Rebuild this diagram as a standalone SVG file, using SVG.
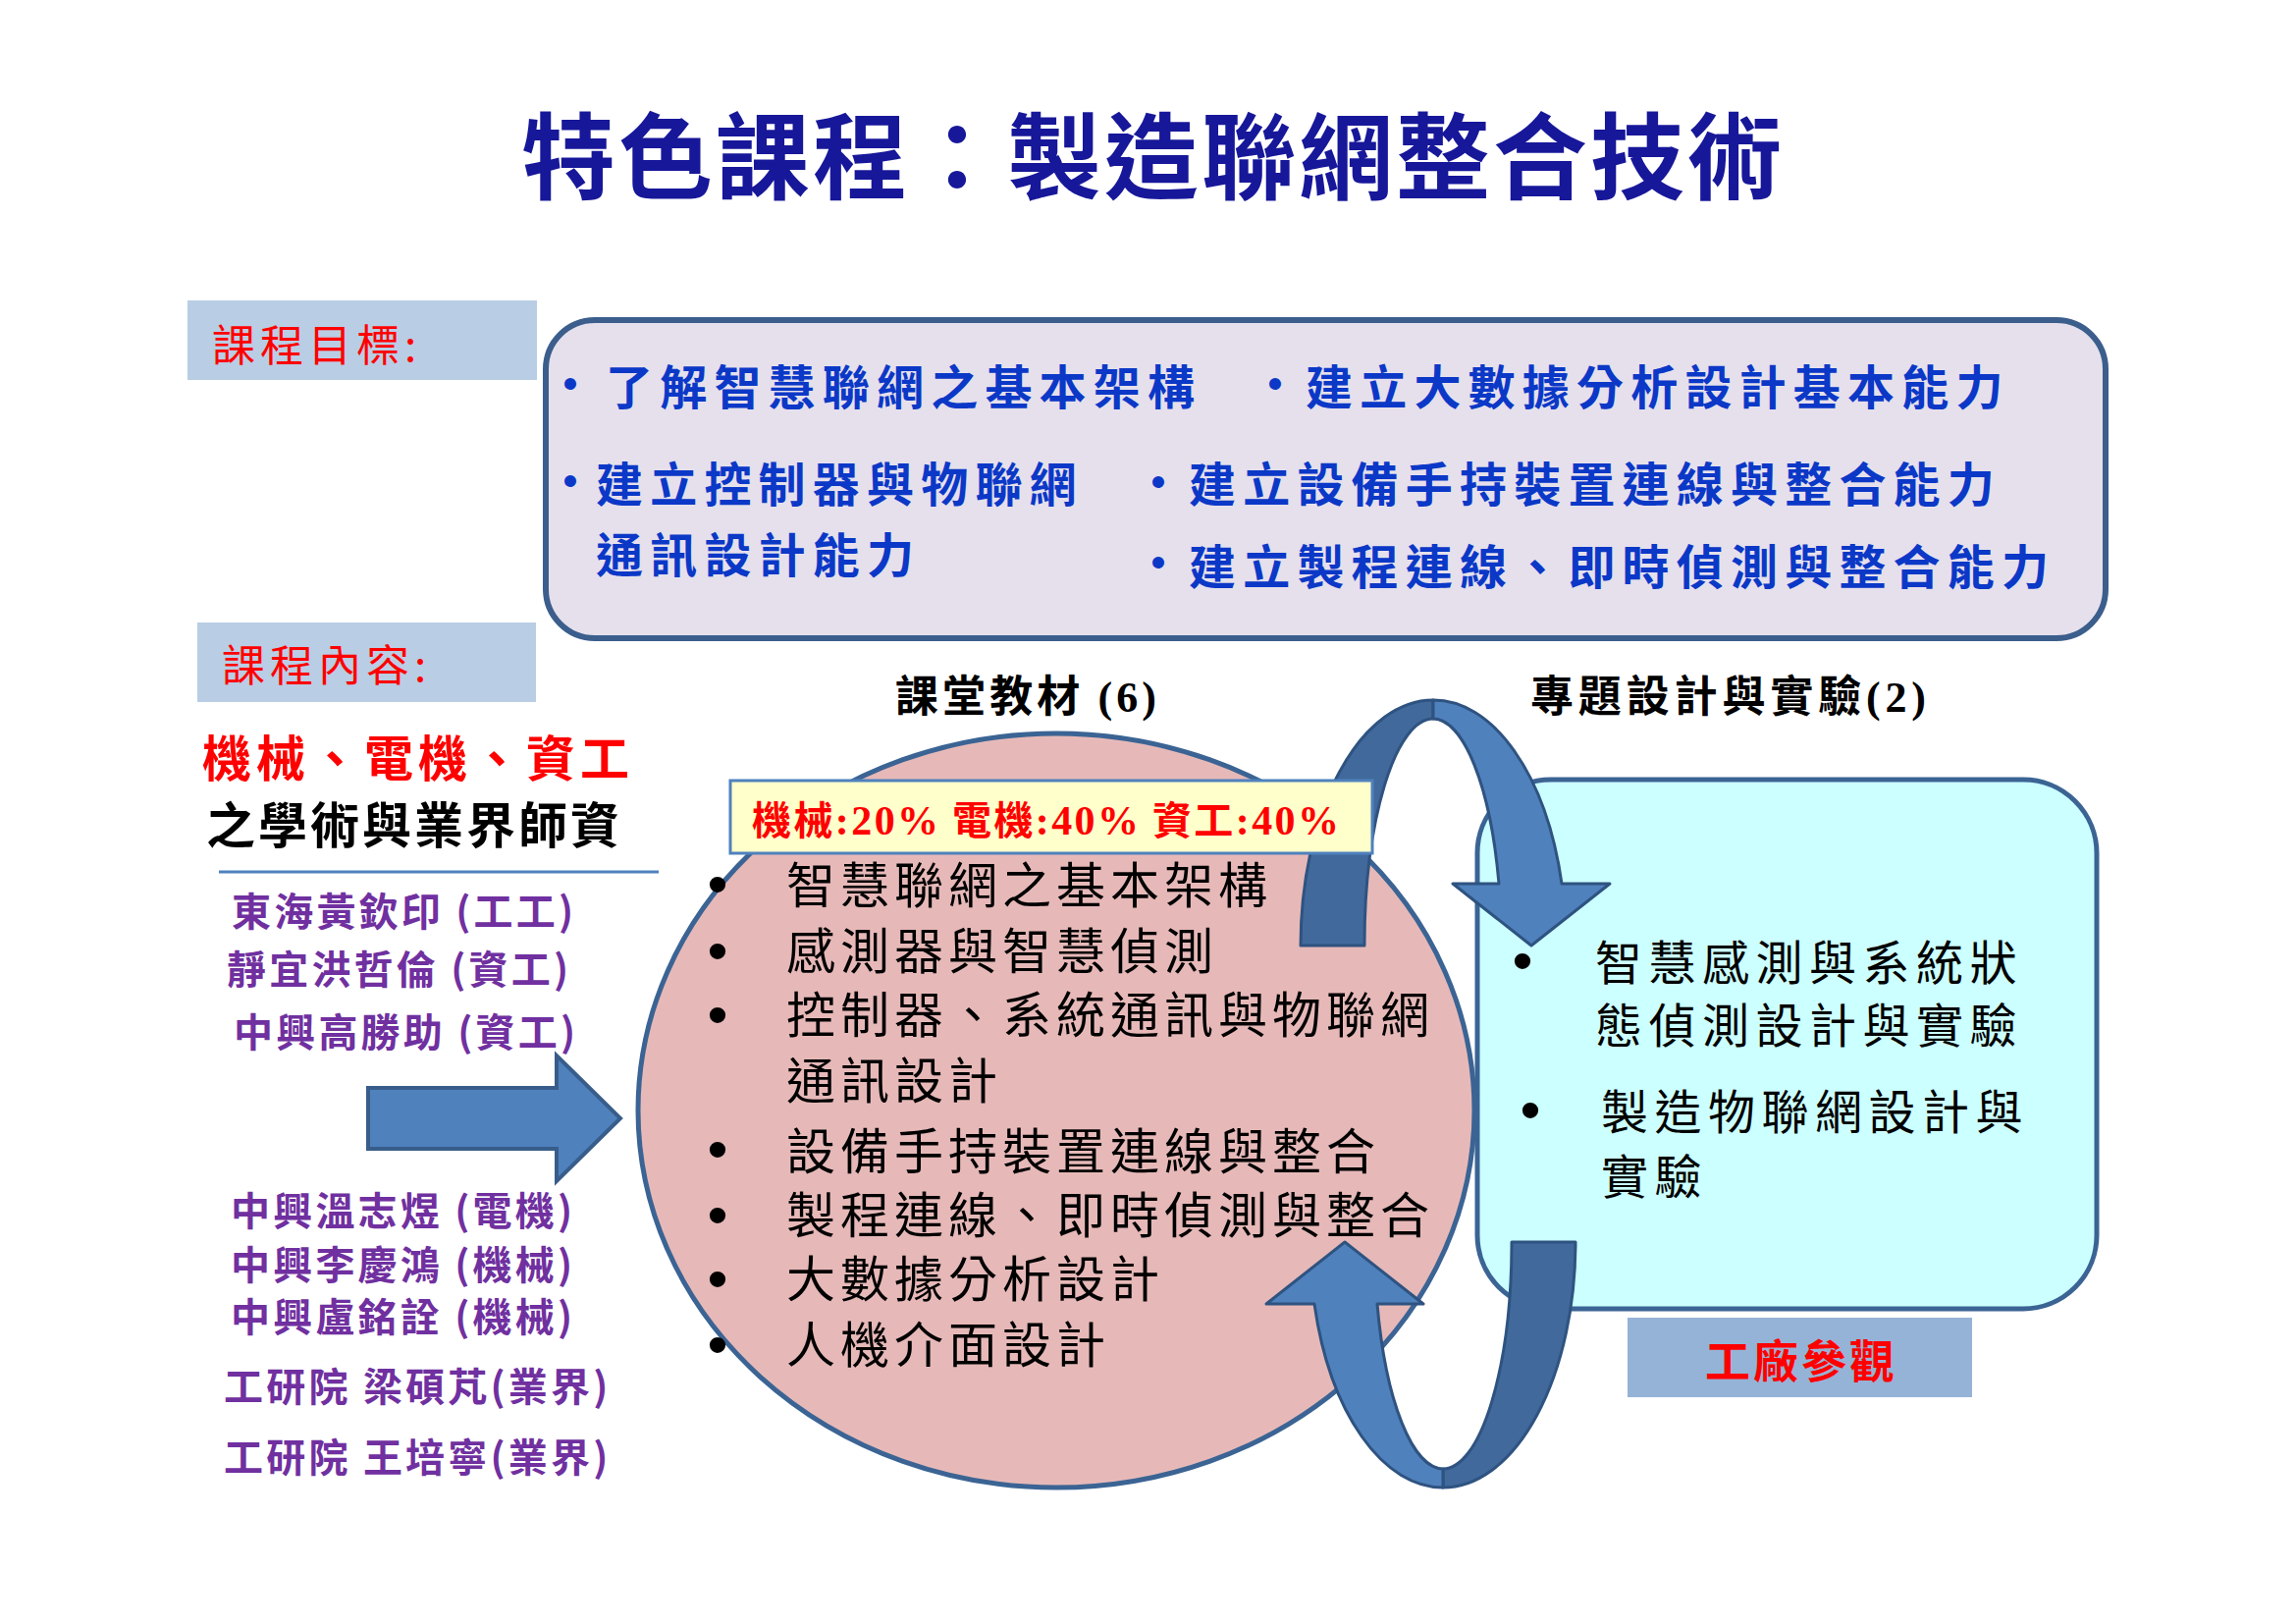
<svg xmlns="http://www.w3.org/2000/svg" xmlns:xlink="http://www.w3.org/1999/xlink" width="2339" height="1654" viewBox="0 0 2339 1654">
<style>
.cjk{font-family:"Noto Sans CJK TC","Noto Sans CJK SC",sans-serif;}
.b{font-weight:bold;}
.obj{font-size:48px;letter-spacing:7.2px;fill:#0B38C7;font-weight:bold;}
.name{font-size:40px;letter-spacing:3.2px;fill:#7030A0;font-weight:bold;}
.pink{font-size:50px;letter-spacing:5px;fill:#000;}
.cyan{font-size:48px;letter-spacing:6.5px;fill:#000;}
.lbl{font-size:44px;letter-spacing:5px;fill:#FF0000;}
.bul{font-family:"Liberation Sans",sans-serif;text-anchor:middle;}
.ser{font-family:"Liberation Serif",serif;}
.light{fill:#4F81BD;stroke:#2F5380;stroke-width:3;stroke-linejoin:round;}
.dark{fill:#41699C;stroke:#2F5380;stroke-width:3;stroke-linejoin:round;}
</style>
<defs>
<g id="uarrow">
<path class="dark" d="M1325,963 A135,250 0 0 1 1460,713 L1460,732 A70,231 0 0 0 1390,963 Z"/>
<path class="light" d="M1460,713 A135,250 0 0 1 1591,900 L1640,900 L1560,963 L1480,900 L1527,900 A70,231 0 0 0 1460,732 Z"/>
</g>
</defs>
<rect width="2339" height="1654" fill="#FFFFFF"/>

<g id="title">
<text class="cjk b" x="531" y="195" font-size="96" letter-spacing="3" fill="#17179A">特色課程：製造聯網整合技術</text>
</g>

<g id="label-goal">
<rect x="191" y="306" width="356" height="81" fill="#B9CDE5"/>
<text class="cjk lbl" x="216" y="368">課程目標:</text>
</g>

<g id="objectives">
<rect x="556" y="326" width="1589" height="324" rx="50" ry="50" fill="#E5E0EC" stroke="#3B5E8C" stroke-width="6"/>
<text class="bul" x="581" y="406" font-size="44" fill="#0B38C7">•</text>
<text class="cjk obj" x="617" y="412">了解智慧聯網之基本架構</text>
<text class="bul" x="1299" y="406" font-size="44" fill="#0B38C7">•</text>
<text class="cjk obj" x="1330" y="412">建立大數據分析設計基本能力</text>
<text class="bul" x="581" y="505" font-size="44" fill="#0B38C7">•</text>
<text class="cjk obj" x="607" y="511">建立控制器與物聯網</text>
<text class="cjk obj" x="607" y="583">通訊設計能力</text>
<text class="bul" x="1180" y="506" font-size="44" fill="#0B38C7">•</text>
<text class="cjk obj" x="1211" y="511">建立設備手持裝置連線與整合能力</text>
<text class="bul" x="1180" y="588" font-size="44" fill="#0B38C7">•</text>
<text class="cjk obj" x="1211" y="595" letter-spacing="7.8">建立製程連線、即時偵測與整合能力</text>
</g>

<g id="label-content">
<rect x="201" y="634" width="345" height="81" fill="#B9CDE5"/>
<text class="cjk lbl" x="226" y="694">課程內容:</text>
</g>

<g id="faculty">
<text class="cjk b" x="206" y="791" font-size="50" letter-spacing="5" fill="#FF0000">機械、電機、資工</text>
<text class="cjk b" x="210" y="859" font-size="50" letter-spacing="3" fill="#000">之學術與業界師資</text>
<line x1="223" y1="888" x2="671" y2="888" stroke="#4F81BD" stroke-width="3"/>
<text class="cjk name" x="236" y="943">東海黃欽印 (工工)</text>
<text class="cjk name" x="231" y="1002">靜宜洪哲倫 (資工)</text>
<text class="cjk name" x="238" y="1066">中興高勝助 (資工)</text>
<text class="cjk name" x="235" y="1248">中興溫志煜 (電機)</text>
<text class="cjk name" x="235" y="1303">中興李慶鴻 (機械)</text>
<text class="cjk name" x="235" y="1356">中興盧銘詮 (機械)</text>
<text class="cjk name" x="228" y="1427">工研院 梁碩芃(業界)</text>
<text class="cjk name" x="228" y="1499">工研院 王培寧(業界)</text>
</g>

<g id="heading-class">
<text class="cjk b" x="912" y="725" font-size="44" textLength="266" lengthAdjust="spacing" fill="#000">課堂教材 <tspan class="ser">(6)</tspan></text>
</g>
<g id="heading-project">
<text class="cjk b" x="1559" y="725" font-size="44" textLength="403" lengthAdjust="spacing" fill="#000">專題設計與實驗<tspan class="ser">(2)</tspan></text>
</g>

<g id="classroom">
<ellipse cx="1076" cy="1131" rx="426" ry="384" fill="#E6B9B8" stroke="#3B6494" stroke-width="5"/>
</g>

<g id="project">
<rect x="1505" y="794" width="631" height="539" rx="75" ry="75" fill="#CCFFFF" stroke="#3B6494" stroke-width="5"/>
<text class="bul" x="1551" y="999" font-size="60" fill="#000">•</text>
<text class="cjk cyan" x="1625" y="998">智慧感測與系統狀</text>
<text class="cjk cyan" x="1625" y="1062">態偵測設計與實驗</text>
<text class="bul" x="1559" y="1151" font-size="60" fill="#000">•</text>
<text class="cjk cyan" x="1631" y="1150">製造物聯網設計與</text>
<text class="cjk cyan" x="1631" y="1216">實驗</text>
</g>

<g id="factory-visit">
<rect x="1658" y="1342" width="351" height="81" fill="#95B3D7"/>
<text class="cjk b" x="1737" y="1403" font-size="46" letter-spacing="3" fill="#FF0000">工廠參觀</text>
</g>

<g id="connectors">
<path d="M375,1108 H567 V1075 L632,1139 L567,1203 V1170 H375 Z" fill="#4F81BD" stroke="#385D8A" stroke-width="4" stroke-linejoin="miter"/>
<use xlink:href="#uarrow"/>
<use xlink:href="#uarrow" transform="rotate(180 1465 1114)"/>
</g>

<g id="ratio">
<rect x="744" y="795" width="654" height="74" fill="#FFFFCC" stroke="#4F81BD" stroke-width="3"/>
<text class="cjk b" x="766" y="850" font-size="40" textLength="598" lengthAdjust="spacing" fill="#FF0000">機械<tspan class="ser" font-size="42">:20%</tspan> 電機<tspan class="ser" font-size="42">:40%</tspan> 資工<tspan class="ser" font-size="42">:40%</tspan></text>
</g>

<g id="classroom-items">
<text class="bul" x="731" y="921" font-size="60">•</text>
<text class="cjk pink" x="801" y="920">智慧聯網之基本架構</text>
<text class="bul" x="731" y="989" font-size="60">•</text>
<text class="cjk pink" x="801" y="987">感測器與智慧偵測</text>
<text class="bul" x="731" y="1054" font-size="60">•</text>
<text class="cjk pink" x="801" y="1052">控制器、系統通訊與物聯網</text>
<text class="cjk pink" x="801" y="1119">通訊設計</text>
<text class="bul" x="731" y="1191" font-size="60">•</text>
<text class="cjk pink" x="801" y="1191">設備手持裝置連線與整合</text>
<text class="bul" x="731" y="1258" font-size="60">•</text>
<text class="cjk pink" x="801" y="1256">製程連線、即時偵測與整合</text>
<text class="bul" x="731" y="1323" font-size="60">•</text>
<text class="cjk pink" x="801" y="1321">大數據分析設計</text>
<text class="bul" x="731" y="1390" font-size="60">•</text>
<text class="cjk pink" x="801" y="1388">人機介面設計</text>
</g>
</svg>
